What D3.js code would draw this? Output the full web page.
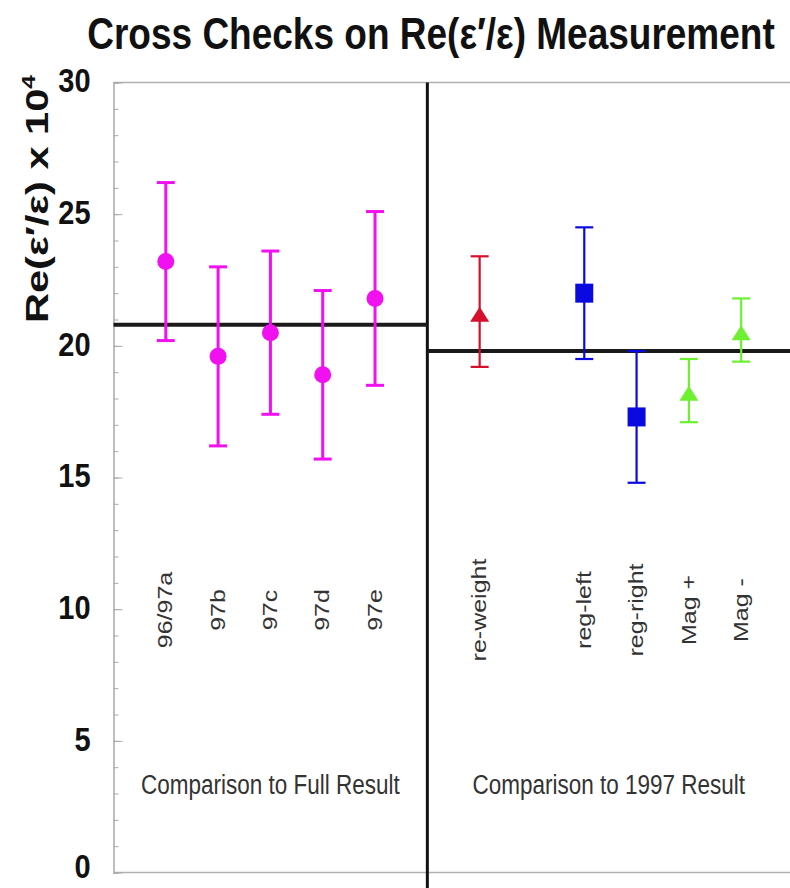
<!DOCTYPE html>
<html><head><meta charset="utf-8">
<script src="https://cdn.jsdelivr.net/npm/d3@7"></script>
<style>body{margin:0;background:#fff}svg{display:block}</style>
</head><body><svg id="c" width="790" height="888"></svg>
<script>
// ---- data ----
const categories = ["96/97a","97b","97c","97d","97e","re-weight","reg-left","reg-right","Mag +","Mag -"];
const slots = [0,1,2,3,4,6,8,9,10,11];
const values = [23.2,19.6,20.5,18.9,21.8,21.2,22.0,17.3,18.2,20.5];
const lows   = [20.2,16.2,17.4,15.7,18.5,19.2,19.5,14.8,17.1,19.4];
const highs  = [26.2,23.0,23.6,22.1,25.1,23.4,24.5,19.8,19.5,21.8];
const markers = ["circle","circle","circle","circle","circle","triangle","square","square","triangle","triangle"];
const colors = ["#f010f0","#f010f0","#f010f0","#f010f0","#f010f0","#d4102c","#0a0ae0","#0a0ae0","#6cf030","#6cf030"];
const groupNames = ["Comparison to Full Result","Comparison to 1997 Result"];
const groupRefs = [20.8, 19.8];
const groupSpans = [[-1,5],[5,12]];
const yMajor = [0,5,10,15,20,25,30];
const yMinor = d3.range(0,31,1);
const title = "Cross Checks on Re(\u03b5\u2032/\u03b5) Measurement";

// ---- layout ----
const svg = d3.select("#c");
svg.append("rect").attr("width",790).attr("height",888).attr("fill","#fff");
const x = d3.scaleLinear().domain([-1,12]).range([113.5,793.5]);
const y = d3.scaleLinear().domain([0,30]).range([872.5,82.5]);
const K = 1.17; // vertical stretch of tick lettering
const font = "Arial, 'Liberation Sans', Helvetica, sans-serif";

// frame lines
svg.append("line").attr("x1",x(-1)).attr("x2",790).attr("y1",y(30)).attr("y2",y(30)).attr("stroke","#b0b0b0").attr("stroke-width",1.5);
svg.append("line").attr("x1",x(-1)).attr("x2",790).attr("y1",y(0)).attr("y2",y(0)).attr("stroke","#b0b0b0").attr("stroke-width",1.5);

// axes
const minorAx = svg.append("g").attr("transform",`translate(${x(-1)},0)`)
  .call(d3.axisLeft(y).tickValues(yMinor).tickSize(-5).tickFormat(""));
minorAx.selectAll("line").attr("stroke","#aaa");
minorAx.select(".domain").attr("stroke","#aaa").attr("stroke-width",1.5);
const majorAx = svg.append("g").attr("transform",`translate(${x(-1)},0)`)
  .call(d3.axisLeft(y).tickValues(yMajor).tickSizeInner(-9).tickSizeOuter(0).tickPadding(23));
majorAx.select(".domain").remove();
majorAx.selectAll("line").attr("stroke","#aaa");
majorAx.selectAll("text").attr("font-family",font).attr("font-weight","bold")
  .attr("font-size",29).attr("fill","#111").attr("dy",v=>v===0?"0.15em":"0.27em").attr("transform",`scale(1,${K})`);

// divider
svg.append("line").attr("x1",x(5)).attr("x2",x(5)).attr("y1",y(30)).attr("y2",888)
  .attr("stroke","#111").attr("stroke-width",3);

// reference lines
groupRefs.forEach((v,i)=>{
  svg.append("line").attr("x1",x(groupSpans[i][0])).attr("x2",Math.min(790,x(groupSpans[i][1])))
    .attr("y1",y(v)).attr("y2",y(v)).attr("stroke","#1a1a1a").attr("stroke-width",4);
});

// error bars + markers
const pts = categories.map((c,i)=>({c,s:slots[i],v:values[i],lo:lows[i],hi:highs[i],m:markers[i],col:colors[i]}));
const g = svg.append("g");
pts.forEach(d=>{
  const cx = x(d.s), w = d.m==="circle"?3:2.2, cap = 9;
  g.append("line").attr("x1",cx).attr("x2",cx).attr("y1",y(d.lo)).attr("y2",y(d.hi)).attr("stroke",d.col).attr("stroke-width",w);
  [d.lo,d.hi].forEach(e=>g.append("line").attr("x1",cx-cap).attr("x2",cx+cap).attr("y1",y(e)).attr("y2",y(e)).attr("stroke",d.col).attr("stroke-width",w));
  const cy = y(d.v);
  if (d.m==="circle") g.append("circle").attr("cx",cx).attr("cy",cy).attr("r",8.5).attr("fill",d.col);
  else if (d.m==="square") g.append("rect").attr("x",cx-9).attr("y",cy-9.5).attr("width",18).attr("height",19).attr("fill",d.col);
  else g.append("path").attr("d",`M${cx},${cy-7.5}L${cx+9.5},${cy+7.5}L${cx-9.5},${cy+7.5}Z`).attr("fill",d.col);
});

// category labels
pts.forEach(d=>{
  svg.append("text").attr("transform",`translate(${x(d.s)},610) scale(1,1.25) rotate(-90)`)
    .attr("text-anchor","middle").attr("dominant-baseline","central")
    .attr("font-family",font).attr("font-size",20).attr("fill","#333").text(d.c);
});

// group labels
groupNames.forEach((n,i)=>{
  const cx = (x(groupSpans[i][0]) + Math.min(790,x(groupSpans[i][1])))/2;
  svg.append("text").attr("transform",`translate(${cx},794) scale(1,1.2)`)
    .attr("text-anchor","middle").attr("font-family",font).attr("font-size",22.5).attr("fill","#333").text(n);
});

// title
svg.append("text").attr("transform",`translate(431,49) scale(1,1.22)`)
  .attr("text-anchor","middle").attr("font-family",font).attr("font-weight","bold")
  .attr("font-size",37).attr("fill","#111").text(title);

// y label
const yl = svg.append("text").attr("transform",`translate(48,199) scale(1,1.3) rotate(-90)`)
  .attr("text-anchor","middle").attr("font-family",font).attr("font-weight","bold")
  .attr("font-size",32).attr("fill","#111");
yl.append("tspan").text("Re(\u03b5\u2032/\u03b5) x 10");
yl.append("tspan").attr("font-size",19).attr("dy",-13).text("4");
</script></body></html>
